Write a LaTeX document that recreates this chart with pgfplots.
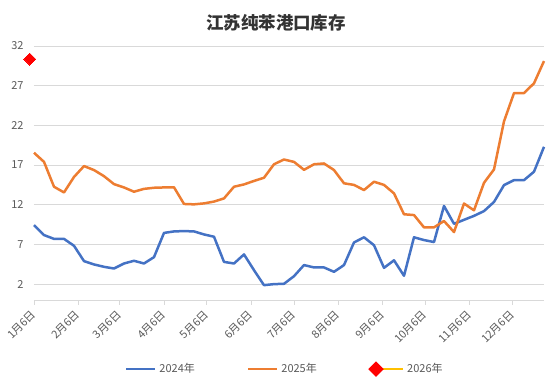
\documentclass[border=0pt]{standalone}
\usepackage{pgfplots}
\pgfplotsset{compat=1.18}
\usepackage{fontspec}
\setmainfont{Noto Sans CJK SC}
\definecolor{cA}{HTML}{4472C4}
\definecolor{cB}{HTML}{ED7D31}
\definecolor{cC}{HTML}{FFC000}
\definecolor{cR}{HTML}{FF0000}
\definecolor{tick}{HTML}{595959}
\definecolor{gridc}{HTML}{D9D9D9}
\pgfplotsset{
  lineleg/.style={legend image code/.code={\draw[##1] (0pt,0pt) -- (29pt,0pt);}},
  diamleg/.style={legend image code/.code={\draw[cC, line width=2.3pt] (0pt,0pt) -- (27pt,0pt); \fill[cR] (0pt,-6pt) -- (6pt,0pt) -- (0pt,6pt) -- (-6pt,0pt) -- cycle;}},
}
\pgfplotstableread{
x y
0 9.44
7 8.18
14 7.7
21 7.7
28 6.83
35 4.9
42 4.48
49 4.18
56 3.97
63 4.6
70 4.94
77 4.6
84 5.4
91 8.45
98 8.64
105 8.68
112 8.64
119 8.26
126 7.97
133 4.8
140 4.6
147 5.74
154 3.76
161 1.87
168 2.0
175 2.04
182 3.0
189 4.4
196 4.1
203 4.1
210 3.55
217 4.4
224 7.25
231 7.9
238 6.9
245 4.05
252 5.0
259 3.05
266 7.9
273 7.55
280 7.3
287 11.85
294 9.6
301 10.1
308 10.6
315 11.2
322 12.35
329 14.47
336 15.1
343 15.1
350 16.16
357 19.3
}\tA
\pgfplotstableread{
x y
0 18.55
7 17.4
14 14.27
21 13.55
28 15.5
35 16.87
42 16.37
49 15.6
56 14.6
63 14.18
70 13.64
77 14.0
84 14.14
91 14.18
98 14.2
105 12.1
112 12.05
119 12.17
126 12.4
133 12.8
140 14.27
147 14.56
154 15.0
161 15.4
168 17.1
175 17.7
182 17.4
189 16.4
196 17.1
203 17.2
210 16.37
217 14.7
224 14.5
231 13.85
238 14.9
245 14.5
252 13.43
259 10.8
266 10.7
273 9.15
280 9.15
287 9.95
294 8.56
301 12.15
308 11.3
315 14.76
322 16.45
329 22.5
336 26.07
343 26.07
350 27.3
357 30.1
}\tB
\begin{document}
\begin{tikzpicture}[x=1pt,y=1pt]
\useasboundingbox (0,0) rectangle (558,385);
\node[font=\fontsize{17.5}{17.5}\selectfont\bfseries, text=black!80] at (276,362) {江苏纯苯港口库存};
\begin{axis}[
  at={(34pt,85pt)}, anchor=south west,
  scale only axis, width=510pt, height=254pt,
  xmin=0, xmax=357, ymin=0, ymax=32,
  axis x line*=bottom, axis y line*=left,
  x axis line style={draw=gridc, line width=0.8pt},
  y axis line style={draw=none},
  xtick={0,31,60,91,121,152,182,213,244,274,305,335},
  xticklabels={1月6日,2月6日,3月6日,4月6日,5月6日,6月6日,7月6日,8月6日,9月6日,10月6日,11月6日,12月6日},
  ytick={2,7,12,17,22,27,32},
  ymajorgrids, grid style={draw=gridc, line width=0.7pt},
  tick align=outside, major tick length=5pt,
  xtick style={draw=gridc, line width=0.8pt},
  ytick style={draw=none},
  /pgf/number format/assume math mode=true,
  tick label style={font=\fontsize{11}{11}\selectfont, text=tick},
  xticklabel style={yshift=-5pt, xshift=2pt, rotate=45, anchor=east},
  yticklabel style={xshift=-2pt},
  clip=false,
  legend columns=3,
  legend style={draw=none, fill=none, at={(0.178,-0.272)}, anchor=west,
    font=\fontsize{11}{11}\selectfont, text=tick, inner sep=0pt,
    /tikz/every odd column/.append style={column sep=1pt},
    /tikz/every even column/.append style={column sep=50pt}},
  legend cell align=left,
]
\addplot[cA, line width=2.5pt, line join=round, lineleg] table[x=x,y=y]{\tA};
\addlegendentry{2024年}
\addplot[cB, line width=2.5pt, line join=round, lineleg] table[x=x,y=y]{\tB};
\addlegendentry{2025年}
\addplot[cC, line width=2.5pt, mark=square*, mark size=4.2pt, mark options={fill=cR, draw=cR, rotate=45, line width=0pt}, diamleg] coordinates {(-3,30.35)};
\addlegendentry{2026年}
\end{axis}
\end{tikzpicture}
\end{document}
